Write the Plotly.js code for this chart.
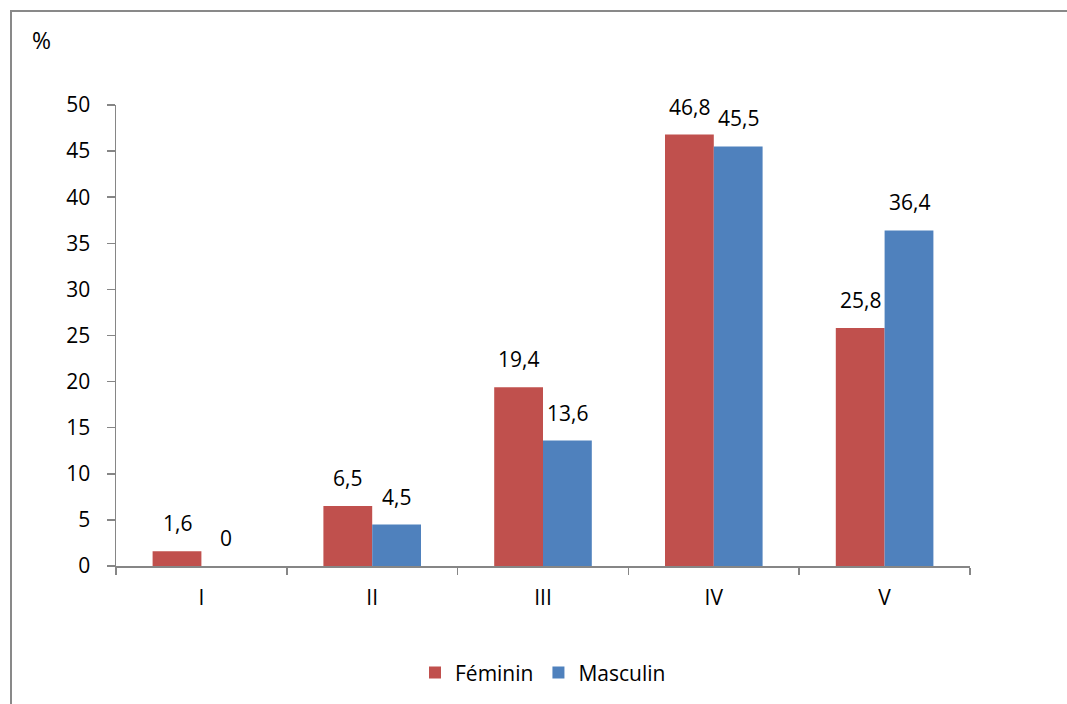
<!DOCTYPE html>
<html><head><meta charset="utf-8">
<script src="https://cdn.plot.ly/plotly-3.0.1.min.js"></script>
<style>
html,body{margin:0;padding:0;background:#fff;overflow:hidden;}
#wrap{position:relative;width:1067px;height:704px;overflow:hidden;}
#chart{position:absolute;left:0;top:0;width:1067px;height:704px;}
#frame{position:absolute;left:10px;top:10px;width:1057px;height:694px;border-top:2.5px solid #898989;border-left:2.5px solid #898989;pointer-events:none;box-sizing:border-box;}
</style>
</head><body><div id="wrap"><div id="chart"></div><div id="frame"></div></div>
<script>
const categories = ["I", "II", "III", "IV", "V"];
const feminin = [1.6, 6.5, 19.4, 46.8, 25.8];
const masculin = [0, 4.5, 13.6, 45.5, 36.4];
const seriesNames = ["Féminin", "Masculin"];
const yTicks = [0, 5, 10, 15, 20, 25, 30, 35, 40, 45, 50];

const FONT = "Open Sans, sans-serif";
const FS = 21;
const fmt = v => String(v).replace(".", ",");
const colors = ["#C0504D", "#4F81BD"];

const traces = [feminin, masculin].map((vals, k) => ({
  type: "bar", name: seriesNames[k], x: categories, y: vals,
  marker: {color: colors[k]}, hoverinfo: "skip"
}));

const annotations = [];
[feminin, masculin].forEach((vals, k) => {
  vals.forEach((v, i) => {
    annotations.push({
      x: categories[i], y: v, xref: "x", yref: "y", text: fmt(v),
      showarrow: false, xanchor: "center", yanchor: "bottom",
      xshift: k === 0 ? -24.4 : 24.4, yshift: 12,
      font: {family: FONT, size: FS, color: "#000"}
    });
  });
});
annotations.push({
  xref: "paper", yref: "paper", x: -0.0867, y: 1.1407, text: "%",
  showarrow: false, xanchor: "center", yanchor: "middle",
  font: {family: FONT, size: 23, color: "#000"}
});

const layout = {
  width: 1067, height: 704,
  margin: {l: 116, r: 97, t: 105, b: 137},
  paper_bgcolor: "#fff", plot_bgcolor: "#fff",
  barmode: "group", bargap: 0.4286, bargroupgap: 0,
  font: {family: FONT, size: FS, color: "#000"},
  xaxis: {
    type: "category", showgrid: false, zeroline: false,
    showline: true, linecolor: "#868686", linewidth: 1.5,
    ticks: "outside", tickson: "boundaries", ticklen: 7, tickcolor: "#868686", tickwidth: 1.5,
    ticklabelstandoff: 12,
    tickfont: {family: FONT, size: FS, color: "#000"}
  },
  yaxis: {
    range: [0, 50], tickvals: yTicks, ticktext: yTicks.map(String),
    showgrid: false, zeroline: false,
    showline: true, linecolor: "#868686", linewidth: 1.5,
    ticks: "outside", ticklen: 8, tickcolor: "#868686", tickwidth: 1.5,
    ticklabelstandoff: 12,
    tickfont: {family: FONT, size: FS, color: "#000"}
  },
  showlegend: true,
  legend: {
    orientation: "h", x: 0.5, xanchor: "center", y: -0.229, yanchor: "middle",
    font: {family: FONT, size: FS, color: "#000"}, itemwidth: 30, traceorder: "normal"
  },
  annotations: annotations
};

Plotly.newPlot("chart", traces, layout, {staticPlot: true, displayModeBar: false});
</script></body></html>
